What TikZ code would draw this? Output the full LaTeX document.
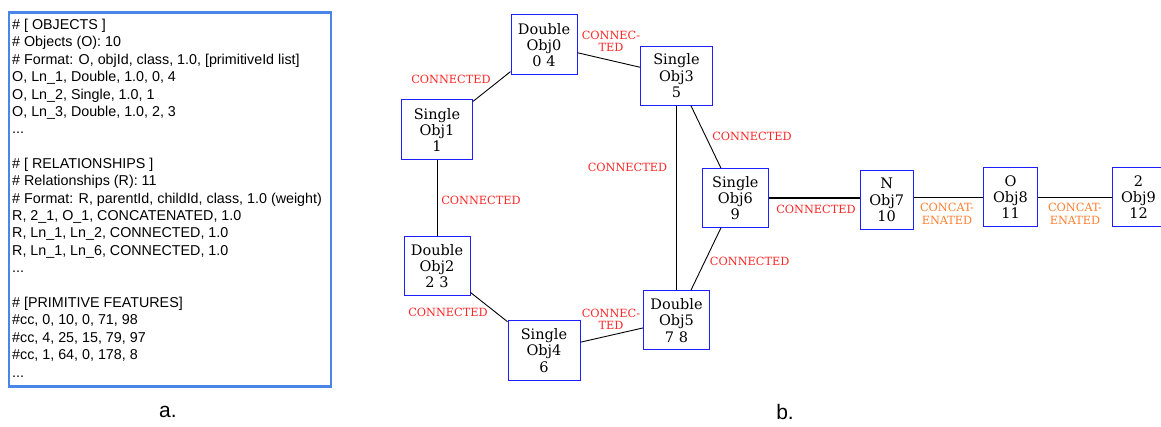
\documentclass[tikz,border=0pt]{standalone}
\usepackage{fontspec}
\setmainfont{Liberation Sans}
\newfontfamily\gvfont{DejaVu Serif}
\definecolor{boxblue}{RGB}{74,134,232}
\definecolor{nodeblue}{RGB}{30,30,255}
\definecolor{labred}{RGB}{255,40,40}
\definecolor{laborange}{RGB}{255,128,50}
\begin{document}
\begin{tikzpicture}[x=1pt,y=-1pt,
  txt/.style={anchor=base west,inner sep=0pt,font=\fontsize{14.3}{17}\selectfont},
  obj/.style={draw=nodeblue,line width=1pt,inner sep=0pt,minimum height=59pt,align=center,font=\gvfont\fontsize{14.5}{16.3}\selectfont},
  edge/.style={draw=black,line width=0.9pt},
  lab/.style={text=labred,inner sep=0pt,align=center,font=\gvfont\fontsize{11.3}{12.4}\selectfont},
  cat/.style={lab,text=laborange},
  figcap/.style={inner sep=0pt,font=\fontsize{21}{24}\selectfont}]
\useasboundingbox (0,0) rectangle (1161,427);
\fill[white] (0,0) rectangle (1161,427);
% panel a
\node[draw=boxblue,line width=2.8pt,minimum width=322pt,minimum height=373.5pt,anchor=north west,inner sep=0pt] (listing) at (7.5,11.5) {};
\node[txt] (t0) at (12,29.6) {\# [ OBJECTS ]};
\node[txt] (t1) at (12,47.0) {\# Objects (O): 10};
\node[txt] (t2) at (12,64.3) {\# Format: O, objId, class, 1.0, [primitiveId list]};
\node[txt] (t3) at (12,81.7) {O, Ln\_1, Double, 1.0, 0, 4};
\node[txt] (t4) at (12,99.1) {O, Ln\_2, Single, 1.0, 1};
\node[txt] (t5) at (12,116.5) {O, Ln\_3, Double, 1.0, 2, 3};
\node[txt] (t6) at (12,133.8) {...};
\node[txt] (t8) at (12,168.6) {\# [ RELATIONSHIPS ]};
\node[txt] (t9) at (12,185.9) {\# Relationships (R): 11};
\node[txt] (t10) at (12,203.3) {\# Format: R, parentId, childId, class, 1.0 (weight)};
\node[txt] (t11) at (12,220.7) {R, 2\_1, O\_1, CONCATENATED, 1.0};
\node[txt] (t12) at (12,238.0) {R, Ln\_1, Ln\_2, CONNECTED, 1.0};
\node[txt] (t13) at (12,255.4) {R, Ln\_1, Ln\_6, CONNECTED, 1.0};
\node[txt] (t14) at (12,272.8) {...};
\node[txt] (t16) at (12,307.5) {\# [PRIMITIVE FEATURES]};
\node[txt] (t17) at (12,324.9) {\#cc, 0, 10, 0, 71, 98};
\node[txt] (t18) at (12,342.3) {\#cc, 4, 25, 15, 79, 97};
\node[txt] (t19) at (12,359.6) {\#cc, 1, 64, 0, 178, 8};
\node[txt] (t20) at (12,377.0) {...};
\node[figcap] (capa) at (168,412) {a.};
\node[figcap] (capb) at (785,412) {b.};
% panel b nodes
\node[obj,minimum width=66pt,minimum height=60pt] (o0) at (544,45) {Double\\Obj0\\0 4};
\node[obj,minimum width=71pt,minimum height=60pt] (o1) at (437,130) {Single\\Obj1\\1};
\node[obj,minimum width=66pt] (o2) at (437,266) {Double\\Obj2\\2 3};
\node[obj,minimum width=72pt] (o3) at (676.5,75.7) {Single\\Obj3\\5};
\node[obj,minimum width=72pt] (o4) at (544,350.5) {Single\\Obj4\\6};
\node[obj,minimum width=66pt] (o5) at (676.5,320.3) {Double\\Obj5\\7 8};
\node[obj,minimum width=66pt] (o6) at (735.3,198) {Single\\Obj6\\9};
\node[obj,minimum width=53pt] (o7) at (886.7,200) {N\\Obj7\\10};
\node[obj,minimum width=54pt] (o8) at (1010.5,197) {O\\Obj8\\11};
\node[obj,minimum width=53pt] (o9) at (1138.5,197) {2\\Obj9\\12};
% edges
\draw[edge] (o0) -- (o1);
\draw[edge] (o0) -- (o3);
\draw[edge] (o1) -- (o2);
\draw[edge] (o2) -- (o4);
\draw[edge] (o4) -- (o5);
\draw[edge] (o3) -- (o5);
\draw[edge] (o3) -- (o6);
\draw[edge] (o6) -- (o5);
\draw[edge,line width=1.8pt] (o6.east |- 0,197.7) -- (o7.west |- 0,197.7);
\draw[edge] (o7.east |- 0,197) -- (o8.west |- 0,197);
\draw[edge] (o8) -- (o9);
% labels
\node[lab] (l01) at (451,79) {CONNECTED};
\node[lab] (l03) at (611,41.5) {CONNEC-\\TED};
\node[lab] (l12) at (481,200) {CONNECTED};
\node[lab] (l24) at (448,312.7) {CONNECTED};
\node[lab] (l45) at (611,319.5) {CONNEC-\\TED};
\node[lab] (l35) at (627.5,167.7) {CONNECTED};
\node[lab] (l36) at (752,136.7) {CONNECTED};
\node[lab] (l65) at (749.7,261.7) {CONNECTED};
\node[lab] (l67) at (816,209) {CONNECTED};
\node[cat] (l78) at (947,214) {CONCAT-\\ENATED};
\node[cat] (l89) at (1075,214) {CONCAT-\\ENATED};
\end{tikzpicture}
\end{document}
